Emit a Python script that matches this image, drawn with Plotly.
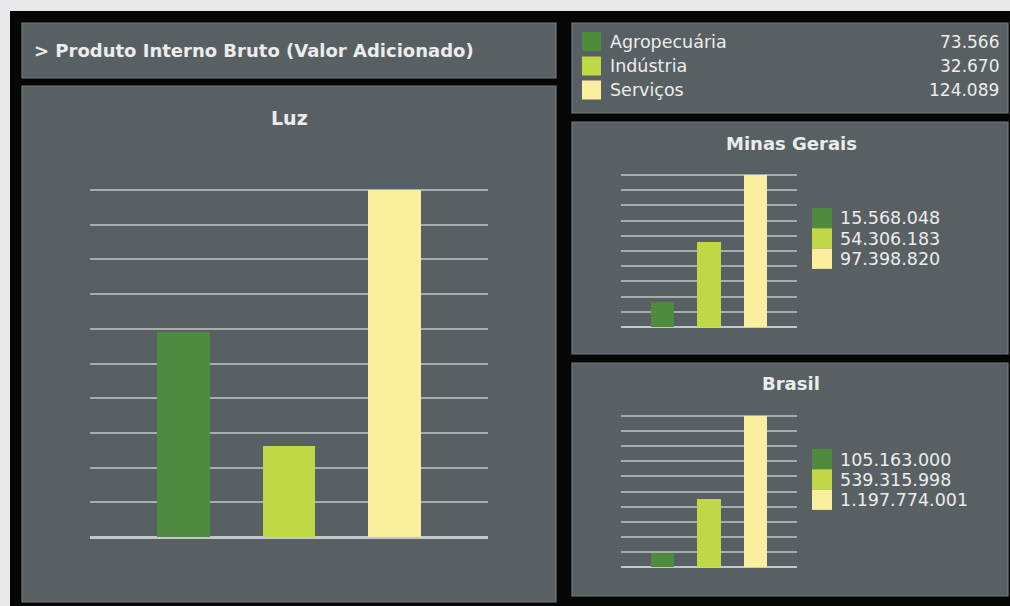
import plotly.graph_objects as go

# --- data -------------------------------------------------------------
sectors = ["Agropecuária", "Indústria", "Serviços"]
luz_values = [73566, 32670, 124089]
minas_values = [15568048, 54306183, 97398820]
brasil_values = [105163000, 539315998, 1197774001]

header_text = "> Produto Interno Bruto (Valor Adicionado)"
region_titles = ["Luz", "Minas Gerais", "Brasil"]

# --- styling ------------------------------------------------------------
W, H = 1010, 606
sector_colors = ["#4e8b3e", "#c0d746", "#fbef9f"]
panel_fill = "#596064"
panel_edge = "#747a7d"
frame_color = "#060606"
page_bg = "#e8e9eb"
grid_color = "#a6adb0"
base_color = "#c4c8ca"
text_color = "#ececec"
FONT = "DejaVu Sans"
HEADROOM = 1.03  # y range slightly above the largest bar so its gridline is drawn


def px(x):
    return x / W


def py(y):
    return 1 - y / H


def fmt(v):
    return f"{v:,}".replace(",", ".")


fig = go.Figure()

shapes = []
annotations = []

# outer black frame and the dark panels
shapes.append(dict(type="rect", xref="paper", yref="paper",
                   x0=px(10), x1=px(1010), y0=py(606), y1=py(11),
                   fillcolor=frame_color, line=dict(width=0), layer="below"))
panels = [
    (22, 23, 556, 78),    # header
    (22, 86, 556, 602),   # Luz
    (572, 23, 1008, 113),  # Luz legend
    (572, 122, 1008, 354),  # Minas Gerais
    (572, 363, 1008, 596),  # Brasil
]
for x0, y0, x1, y1 in panels:
    shapes.append(dict(type="rect", xref="paper", yref="paper",
                       x0=px(x0), x1=px(x1), y0=py(y1), y1=py(y0),
                       fillcolor=panel_fill,
                       line=dict(color=panel_edge, width=1.2), layer="below"))

# header
annotations.append(dict(text=f"<b>{header_text}</b>", x=px(32), y=py(51),
                        xref="paper", yref="paper", xanchor="left", yanchor="middle",
                        showarrow=False, font=dict(family=FONT, size=18, color=text_color)))

# top legend with Luz values
legend_rows = [41.5, 66, 90]
for name, val, col, yc in zip(sectors, luz_values, sector_colors, legend_rows):
    shapes.append(dict(type="rect", xref="paper", yref="paper",
                       x0=px(582), x1=px(601), y0=py(yc + 9.5), y1=py(yc - 9.5),
                       fillcolor=col, line=dict(width=0)))
    annotations.append(dict(text=name, x=px(608), y=py(yc), xref="paper", yref="paper",
                            xanchor="left", yanchor="middle", showarrow=False,
                            font=dict(family=FONT, size=17.5, color=text_color)))
    annotations.append(dict(text=fmt(val), x=px(1001), y=py(yc), xref="paper", yref="paper",
                            xanchor="right", yanchor="middle", showarrow=False,
                            font=dict(family=FONT, size=17, color=text_color)))

# bar charts: (values, x-domain px, y-domain px of zero..max, title pos, legend top)
charts = [
    (luz_values, (90, 488), (190, 537), (289, 118), None, 19),
    (minas_values, (621, 797), (175, 327), (791, 143), 208, 18),
    (brasil_values, (621, 797), (416, 567), (791, 383), 449, 18),
]

for i, (vals, (xa, xb), (ya, yb), (tx, ty), leg_top, tsize) in enumerate(charts):
    n = "" if i == 0 else str(i + 1)
    small = i > 0
    fig.add_trace(go.Bar(
        x=sectors, y=vals, marker=dict(color=sector_colors, line=dict(width=0)),
        width=0.5,
        xaxis="x" + n, yaxis="y" + n, showlegend=False, hoverinfo="x+y",
    ))
    vmax = max(vals)
    top_px = yb - (yb - ya) * HEADROOM
    fig.update_layout(**{
        "xaxis" + n: dict(domain=[px(xa), px(xb)], type="category",
                          range=[-0.885, 2.885], showticklabels=False,
                          showgrid=False, zeroline=False, showline=False, ticks=""),
        "yaxis" + n: dict(domain=[py(yb), py(top_px)], range=[0, vmax * HEADROOM],
                          tick0=0, dtick=vmax / 10, showticklabels=False, ticks="",
                          showgrid=True, gridcolor=grid_color,
                          gridwidth=2 if not small else 1.6,
                          zeroline=True, zerolinecolor=base_color,
                          zerolinewidth=3 if not small else 2.4,
                          showline=False),
    })
    annotations.append(dict(text=f"<b>{region_titles[i]}</b>", x=px(tx), y=py(ty),
                            xref="paper", yref="paper", xanchor="center", yanchor="middle",
                            showarrow=False,
                            font=dict(family=FONT, size=tsize, color=text_color)))
    if leg_top is not None:
        for k, (val, col) in enumerate(zip(vals, sector_colors)):
            r0 = leg_top + k * 20.3
            shapes.append(dict(type="rect", xref="paper", yref="paper",
                               x0=px(812), x1=px(832), y0=py(r0 + 20.3), y1=py(r0),
                               fillcolor=col, line=dict(width=0)))
            annotations.append(dict(text=fmt(val), x=px(838), y=py(r0 + 10.5),
                                    xref="paper", yref="paper", xanchor="left",
                                    yanchor="middle", showarrow=False,
                                    font=dict(family=FONT, size=17.5, color=text_color)))

fig.update_layout(
    width=W, height=H,
    margin=dict(l=0, r=0, t=0, b=0),
    paper_bgcolor=page_bg,
    plot_bgcolor="rgba(0,0,0,0)",
    shapes=shapes,
    annotations=annotations,
    bargap=0,
    showlegend=False,
)

fig.write_html("out.html", config={"displayModeBar": False})
